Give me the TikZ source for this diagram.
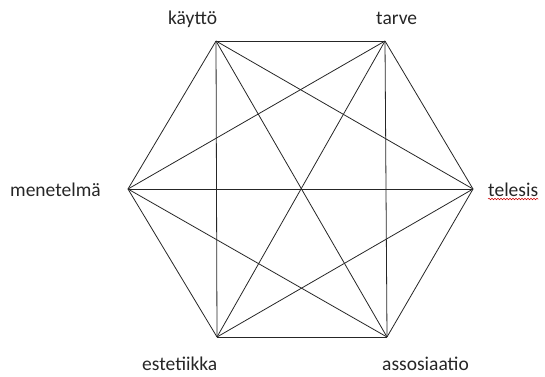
\documentclass[tikz,border=0pt]{standalone}
\usepackage{fontspec}
\setmainfont{Carlito}
\usepackage{tikz}
\usetikzlibrary{decorations.pathmorphing}

\begin{document}
\begin{tikzpicture}[x=1pt,y=-1pt]
        \useasboundingbox (0,0) rectangle (545,376);
        \tikzset{nimi/.style={inner sep=0pt, anchor=base west, font=\fontsize{19.5}{23}\selectfont, text=black!85}}

        % Kulmat
        \coordinate (kaytto) at (216,41);
        \coordinate (tarve) at (385,41);
        \coordinate (telesis) at (473,189);
        \coordinate (assos) at (387,337);
        \coordinate (estet) at (217,337);
        \coordinate (menet) at (128,189);

        % Nimet
        \node[nimi] (kayttoN) at (168,24) {käyttö};
        \node[nimi] (tarveN) at (376,24) {tarve};
        \node[nimi] (telesisN) at (488,196) {telesis};
        \node[nimi] (assosN) at (382,370) {assosiaatio};
        \node[nimi] (estetN) at (142,370) {estetiikka};
        \node[nimi] (menetN) at (10,196) {menetelmä};
        \draw[red!80!black, line width=0.5pt, decorate, decoration={snake, amplitude=0.8pt, segment length=3pt}]
            ([yshift=-3pt]telesisN.base west) -- ([yshift=-3pt]telesisN.base east);

        % Kaikki yhteydet
        \foreach \a/\b in {kaytto/tarve, kaytto/telesis, kaytto/assos, kaytto/estet, kaytto/menet,
                           tarve/telesis, tarve/assos, tarve/estet, tarve/menet,
                           telesis/assos, telesis/estet, telesis/menet,
                           assos/estet, assos/menet,
                           estet/menet}
            \draw[line width=0.8pt, black!85] (\a) -- (\b);
\end{tikzpicture}
\end{document}
